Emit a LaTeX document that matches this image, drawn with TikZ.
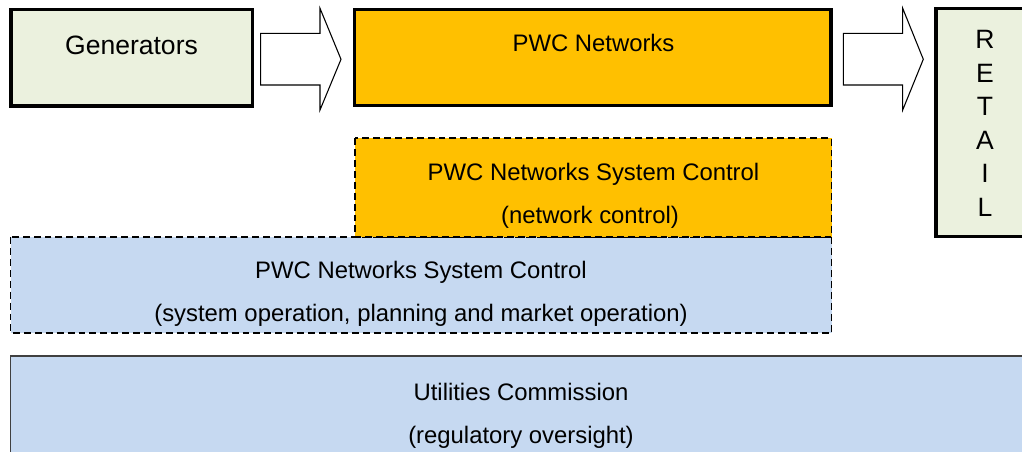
\documentclass[tikz,border=0pt]{standalone}
\usepackage{fontspec}
\setmainfont{Liberation Sans}
\usepackage{xcolor}

\definecolor{genfill}{RGB}{235,241,222}
\definecolor{netfill}{RGB}{255,192,0}
\definecolor{ctrlfill}{RGB}{198,217,241}
\definecolor{regdraw}{RGB}{64,64,64}

\tikzset{
  solidbox/.style={draw=black, line width=2.8pt},
  dashbox/.style={draw=black, line width=1.4pt, dash pattern=on 5.2pt off 3pt},
  regbox/.style={draw=regdraw, line width=0.9pt},
  blockarrow/.style={draw=black, line width=0.8pt, fill=white, line join=miter},
  lbl/.style={inner sep=0.75pt, font=\fontsize{17.9}{20}\selectfont},
  biglbl/.style={inner sep=0.75pt, font=\fontsize{19.9}{22}\selectfont}
}

\begin{document}
\begin{tikzpicture}[x=0.75pt,y=0.75pt,yscale=-1,xscale=1]
\useasboundingbox (0,0) rectangle (1022,452);
\clip (0,0) rectangle (1022,452);
%Shape: Rectangle [Utilities Commission]
\draw [regbox, fill=ctrlfill] (10.5,356) rectangle (1040,470) ;
%Shape: Rectangle [system control, blue]
\draw [dashbox, fill=ctrlfill] (10.5,237) rectangle (831.5,333) ;
%Shape: Rectangle [network control, orange]
\draw [dashbox, fill=netfill] (355,138) rectangle (831.5,237) ;
%Shape: Rectangle [Generators]
\draw [solidbox, fill=genfill] (11,9.5) rectangle (252.5,106) ;
%Shape: Rectangle [PWC Networks]
\draw [solidbox, fill=netfill] (354.5,9.5) rectangle (831,105.5) ;
%Shape: Rectangle [RETAIL]
\draw [solidbox, fill=genfill] (936,8.5) rectangle (1040,236.5) ;
%Shape: Right Arrow [Generators to PWC Networks]
\draw [blockarrow] (260.7,33.3) -- (320,33.3) -- (320,8.3) -- (341,59.3) -- (320,110) -- (320,85) -- (260.7,85) -- cycle ;
%Shape: Right Arrow [PWC Networks to RETAIL]
\draw [blockarrow] (843.3,33.3) -- (902.7,33.3) -- (902.7,8.3) -- (923.3,59.3) -- (902.7,110) -- (902.7,85) -- (843.3,85) -- cycle ;
% Text Node
\node [biglbl] (gen) at (131.5,45) {Generators};
% Text Node
\node [lbl] (net) at (593.5,43) {PWC Networks};
% Text Node
\foreach \ch [count=\i] in {R,E,T,A,I,L}
  \node [biglbl] (retail\i) at (985,6+33.5*\i) {\ch};
% Text Node
\node [lbl] (netctrl) at (593.5,174) {PWC Networks System Control};
% Text Node
\node [lbl] (netctrlsub) at (590,217) {(network control)};
% Text Node
\node [lbl] (sysctrl) at (421,272) {PWC Networks System Control};
% Text Node
\node [lbl] (sysctrlsub) at (421,315) {(system operation, planning and market operation)};
% Text Node
\node [lbl] (reg) at (521,392) {Utilities Commission};
% Text Node
\node [lbl] (regsub) at (521,437) {(regulatory oversight)};
\end{tikzpicture}
\end{document}
